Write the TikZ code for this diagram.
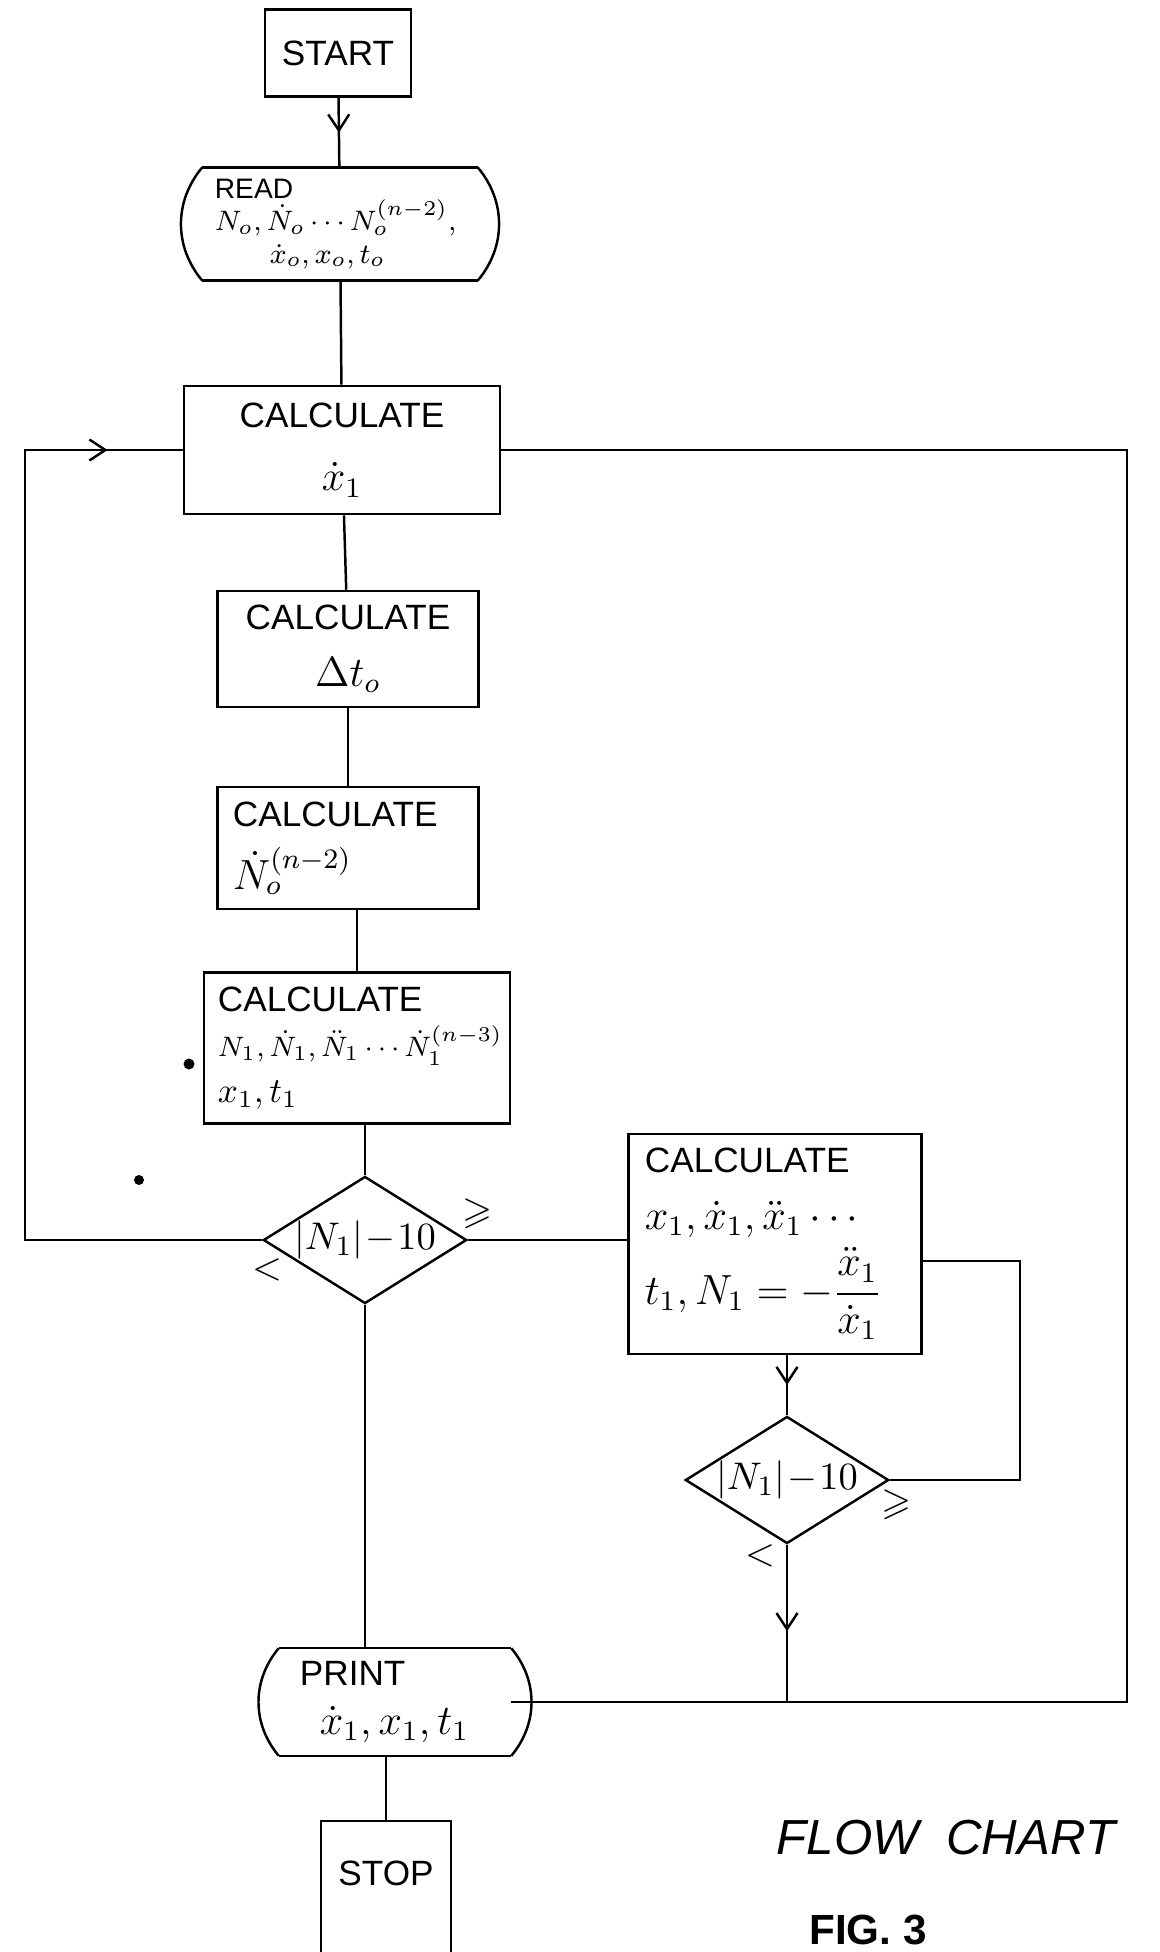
\documentclass[tikz,border=0pt]{standalone}
\usepackage{amsmath,amssymb}
\usepackage{fontspec}
\setmainfont{Liberation Sans}
\usetikzlibrary{arrows.meta,shapes.geometric,decorations.markings}

\begin{document}
\begin{tikzpicture}[
    x=0.01cm, y=-0.01cm,
    line width=0.7pt,
    box/.style={draw, rectangle, inner sep=4pt, font=\fontsize{10}{16}\selectfont},
    iobox/.style={rectangle, inner sep=3pt,
      append after command={
        (\tikzlastnode.north west) edge (\tikzlastnode.north east)
        (\tikzlastnode.south west) edge (\tikzlastnode.south east)
        (\tikzlastnode.north west) edge[bend right=40] (\tikzlastnode.south west)
        (\tikzlastnode.north east) edge[bend left=40] (\tikzlastnode.south east)}},
    decision/.style={draw, diamond, inner sep=0pt, aspect=1.6, font=\fontsize{11}{13}\selectfont},
    arrow/.style={postaction={decorate}, decoration={markings,
      mark=at position #1 with {\arrow{Straight Barb[length=1.6mm, width=2.1mm]}}}},
    arrow/.default=0.5,
    sign/.style={inner sep=0pt, font=\fontsize{11}{13}\selectfont}
]
\useasboundingbox (0,0) rectangle (1159,1952);
\clip (0,0) rectangle (1159,1952);

\node[box, minimum width=1.46cm, minimum height=0.87cm] (start) at (338,53) {START};
\node[iobox, minimum width=2.73cm, minimum height=0.92cm, text width=2.5cm, align=left,
      font=\fontsize{8}{9.2}\selectfont] (read) at (340,224)
      {READ\\ $N_o, \dot{N}_o \cdots N_o^{(n-2)},$\\ \hspace*{0.55cm}$\dot{x}_o, x_o, t_o$};
\node[box, minimum width=3.16cm, minimum height=1.28cm, align=center] (xdot) at (342,450)
      {CALCULATE\\[2pt] {\large$\dot{x}_1$}};
\node[box, minimum width=2.61cm, minimum height=1.16cm, align=center] (dt) at (348,649)
      {CALCULATE\\ {\large$\Delta t_o$}};
\node[box, minimum width=2.61cm, minimum height=1.22cm, text width=2.3cm, align=left] (ndot) at (348,848)
      {CALCULATE\\[2pt] {\large$\dot{N}_o^{(n-2)}$}};
\node[box, minimum width=3.05cm, minimum height=1.33cm, text width=2.78cm, align=left,
      font=\fontsize{10}{13}\selectfont] (update) at (357,1048)
      {CALCULATE\\ {\fontsize{8.5}{13}\selectfont$N_1{,}\,\dot{N}_1{,}\,\ddot{N}_1 \cdots \dot{N}_1^{(n-3)}$}\\ $x_1, t_1$};
\node[decision, minimum width=1.84cm, minimum height=1.24cm] (test) at (365,1240) {$|N_1|\!-\!10$};
\node[box, minimum width=2.93cm, minimum height=2cm, text width=2.6cm, align=left] (series) at (775,1244)
      {CALCULATE\\ {\large$x_1, \dot{x}_1, \ddot{x}_1 \cdots$}\\[2pt] {\large$t_1, N_1 = -\dfrac{\ddot{x}_1}{\dot{x}_1}$}};
\node[decision, minimum width=1.95cm, minimum height=1.17cm] (check) at (787,1480) {$|N_1|\!-\!10$};
\node[iobox, minimum width=2.3cm, minimum height=1.05cm, text width=1.9cm, align=left,
      font=\fontsize{10}{14}\selectfont] (print) at (395,1702)
      {PRINT\\ \hspace*{0.2cm}{\large$\dot{x}_1, x_1, t_1$}};
\node[box, anchor=north, minimum width=1.3cm, minimum height=1.45cm, text height=7pt, text depth=12pt] (stop) at (386,1820) {STOP};

\node[sign] (ge1) at (478,1214) {$\geqslant$};
\node[sign] (lt1) at (267,1270) {$<$};
\node[sign] (ge2) at (897,1505) {$\geqslant$};
\node[sign] (lt2) at (760,1556) {$<$};

\node[font=\fontsize{14}{16}\selectfont\itshape] (title) at (946,1838) {FLOW\ \ CHART};
\node[font=\fontsize{12}{14}\selectfont\bfseries] (fig) at (868,1930) {FIG.\ 3};

\coordinate (lcol) at (25,0);
\coordinate (rcol) at (1127,0);
\coordinate (rret) at (1020,0);

\draw[arrow] (start) -- (read);
\draw (read) -- (xdot);
\draw (xdot) -- (dt);
\draw (dt) -- (ndot);
\draw (ndot.south -| update.north) -- (update.north);
\draw (test.north |- update.south) -- (test.north);
\draw[arrow=-0.75cm] (test.west) -- (test.west -| lcol) |- (xdot.west);
\draw (test.east) -- (test.east -| series.west);
\draw (test.south) -- (test.south |- print.north);
\draw[arrow] (check.north |- series.south) -- (check.north);
\draw (check.east) -- (check.east -| rret) |- ([yshift=-0.17cm]series.east);
\draw[arrow=0.55] (check.south) -- (check.south |- print.east);
\draw (xdot.east) -- (xdot.east -| rcol) |- (print.east);
\draw (print.south -| stop.north) -- (stop.north);

\fill (189,1064) circle[radius=0.055cm];
\fill (139,1180) circle[radius=0.05cm];
\end{tikzpicture}
\end{document}
